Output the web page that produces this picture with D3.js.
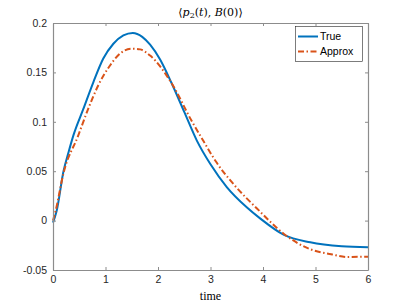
<!DOCTYPE html>
<html>
<head>
<meta charset="utf-8">
<script src="https://d3js.org/d3.v7.min.js"></script>
<style>
  body { margin: 0; background: #fff; }
  svg { display: block; }
</style>
</head>
<body>
<svg id="chart" width="407" height="305"></svg>
<script>
// values
const trueT = [0, 0.07, 0.2, 0.3, 0.387, 0.578, 0.768, 0.958, 1.15, 1.34, 1.52, 1.7, 1.85, 2.04, 2.26, 2.5, 2.74, 3.0, 3.31, 3.69, 3.95, 4.4, 4.9, 5.5, 6];
const trueV = [-0.002, 0.01, 0.05, 0.07, 0.086, 0.113, 0.140, 0.164, 0.179, 0.1875, 0.190, 0.186, 0.178, 0.163, 0.139, 0.110, 0.081, 0.057, 0.034, 0.0135, 0.002, -0.0145, -0.022, -0.026, -0.027];

const approxT = [0, 0.05, 0.2, 0.48, 0.67, 0.863, 1.086, 1.276, 1.5, 1.66, 1.85, 2.26, 2.64, 2.86, 3.1, 3.47, 3.88, 4.4, 4.9, 5.3, 5.6, 6];
const approxV = [0.0, 0.01, 0.048, 0.086, 0.113, 0.137, 0.157, 0.169, 0.174, 0.1733, 0.167, 0.139, 0.101, 0.081, 0.06, 0.035, 0.0125, -0.0135, -0.029, -0.034, -0.0368, -0.0365];

const xTicks = [0, 1, 2, 3, 4, 5, 6];
const yTicks = [-0.05, 0, 0.05, 0.1, 0.15, 0.2];
const seriesNames = ["True", "Approx"];

const svg = d3.select('#chart');
const plotLeft = 53, plotRight = 368, plotTop = 23, plotBottom = 270;

const x = d3.scaleLinear().domain([0, 6]).range([plotLeft, plotRight]);
const y = d3.scaleLinear().domain([-0.05, 0.2]).range([plotBottom, plotTop]);

const axisColor = '#8c8c8c';
const tickFont = '"Liberation Sans", Arial, sans-serif';

// lines
const line = d3.line()
    .x(d => x(d[0]))
    .y(d => y(d[1]))
    .curve(d3.curveMonotoneX);

const trueData = trueT.map((t, i) => [t, trueV[i]]);
const approxData = approxT.map((t, i) => [t, approxV[i]]);

const plot = svg.append('g');
plot.append('path')
    .datum(trueData)
    .attr('fill', 'none')
    .attr('stroke', '#0072BD')
    .attr('stroke-width', 2)
    .attr('d', line);

plot.append('path')
    .datum(approxData)
    .attr('fill', 'none')
    .attr('stroke', '#D95319')
    .attr('stroke-width', 2)
    .attr('stroke-dasharray', '6,2.5,1.5,2.5')
    .attr('d', line);

// axes (box with inward ticks on all sides)
const xAxis = d3.axisBottom(x).tickValues(xTicks).tickSizeInner(-3).tickSizeOuter(0).tickPadding(6).tickFormat(d3.format('d'));
const yAxis = d3.axisLeft(y).tickValues(yTicks).tickSizeInner(-3).tickSizeOuter(0).tickPadding(6).tickFormat(d => d === 0 ? '0' : String(d));

const gx = svg.append('g').attr('transform', `translate(0,${plotBottom})`).call(xAxis);
const gy = svg.append('g').attr('transform', `translate(${plotLeft},0)`).call(yAxis);
const gxTop = svg.append('g').attr('transform', `translate(0,${plotTop})`)
    .call(d3.axisTop(x).tickValues(xTicks).tickSizeInner(-3).tickSizeOuter(0).tickFormat(''));
const gyRight = svg.append('g').attr('transform', `translate(${plotRight},0)`)
    .call(d3.axisRight(y).tickValues(yTicks).tickSizeInner(-3).tickSizeOuter(0).tickFormat(''));

[gx, gy, gxTop, gyRight].forEach(g => {
    g.selectAll('path').attr('stroke', axisColor).attr('stroke-width', 1.2);
    g.selectAll('line').attr('stroke', axisColor);
    g.selectAll('text').attr('fill', '#262626').style('font-family', tickFont).style('font-size', '10.5px');
});

// title
const title = svg.append('text')
    .attr('x', (plotLeft + plotRight) / 2)
    .attr('y', 16)
    .attr('text-anchor', 'middle')
    .style('font-family', '"DejaVu Serif", "Liberation Serif", serif')
    .style('font-size', '11px')
    .attr('fill', '#000');
title.append('tspan').text('\u27E8');
title.append('tspan').style('font-style', 'italic').text('p');
title.append('tspan').attr('dy', 2).style('font-size', '8px').text('2');
title.append('tspan').attr('dy', -2).text('(');
title.append('tspan').style('font-style', 'italic').text('t');
title.append('tspan').text('), ');
title.append('tspan').style('font-style', 'italic').text('B');
title.append('tspan').text('(0)\u27E9');

// x label
svg.append('text')
    .attr('x', (plotLeft + plotRight) / 2)
    .attr('y', 300)
    .attr('text-anchor', 'middle')
    .style('font-family', '"Liberation Serif", "DejaVu Serif", serif')
    .style('font-size', '12px')
    .attr('fill', '#000')
    .text('time');

// legend
const legend = svg.append('g');
legend.append('rect')
    .attr('x', 295.5).attr('y', 26.5)
    .attr('width', 67).attr('height', 35)
    .attr('fill', '#fff')
    .attr('stroke', '#262626')
    .attr('stroke-width', 0.6);

const legendColors = ['#0072BD', '#D95319'];
const legendDash = [null, '6,2.5,1.5,2.5'];
seriesNames.forEach((name, i) => {
    const ly = 36.5 + i * 15;
    legend.append('line')
        .attr('x1', 298).attr('x2', 318)
        .attr('y1', ly).attr('y2', ly)
        .attr('stroke', legendColors[i])
        .attr('stroke-width', 2)
        .attr('stroke-dasharray', legendDash[i]);
    legend.append('text')
        .attr('x', 320)
        .attr('y', ly)
        .attr('dy', '0.35em')
        .style('font-family', tickFont)
        .style('font-size', '10.5px')
        .attr('fill', '#000')
        .text(name);
});
</script>
</body>
</html>
